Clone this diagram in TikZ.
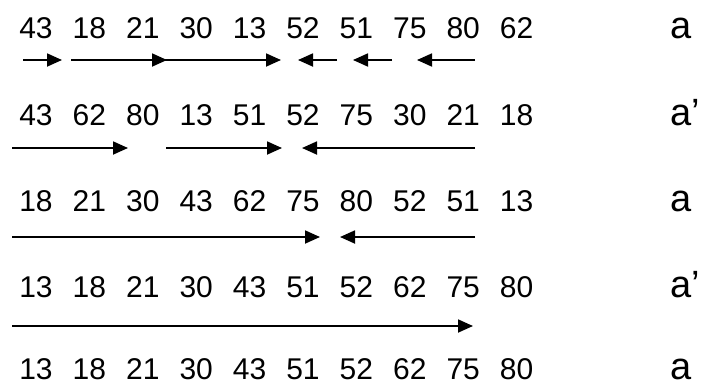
\documentclass[tikz,border=0pt]{standalone}
\usepackage{fontspec}
\setmainfont{Liberation Sans}
\usetikzlibrary{arrows.meta}
\begin{document}
\begin{tikzpicture}[x=1pt,y=-1pt,
  num/.style={anchor=base,inner sep=0pt,text depth=0pt,font=\fontsize{30}{32}\selectfont},
  lab/.style={anchor=base west,inner sep=0pt,text depth=0pt,font=\fontsize{38}{40}\selectfont},
  arr/.style={line width=1.8pt,-{Triangle[length=15pt,width=13pt]}}]
\useasboundingbox (0,0) rectangle (704,386);
% rows
\foreach \r/\y/\vals/\lab in {
  1/38/{43,18,21,30,13,52,51,75,80,62}/a,
  2/125/{43,62,80,13,51,52,75,30,21,18}/a’,
  3/211/{18,21,30,43,62,75,80,52,51,13}/a,
  4/297/{13,18,21,30,43,51,52,62,75,80}/a’,
  5/379/{13,18,21,30,43,51,52,62,75,80}/a}{
  \foreach \v [count=\i from 0] in \vals {
    \node[num] (n\r-\i) at ({36+53.4*\i},\y) {\v};
  }
  \node[lab] (l\r) at (670,\y) {\lab};
}
% row 1 arrows
\coordinate (a1s) at (23,60);  \coordinate (a1e) at (62,60);
\coordinate (a2s) at (71,60);  \coordinate (a2e) at (167,60);
\coordinate (a3s) at (163,60); \coordinate (a3e) at (281,60);
\coordinate (a4s) at (337,60); \coordinate (a4e) at (298,60);
\coordinate (a5s) at (392,60); \coordinate (a5e) at (353,60);
\coordinate (a6s) at (475,60); \coordinate (a6e) at (417,60);
\draw[arr] (a1s) -- (a1e);
\draw[arr] (a2s) -- (a2e);
\draw[arr] (a3s) -- (a3e);
\draw[arr] (a4s) -- (a4e);
\draw[arr] (a5s) -- (a5e);
\draw[arr] (a6s) -- (a6e);
% row 2 arrows
\coordinate (b1s) at (12,148);  \coordinate (b1e) at (128,148);
\coordinate (b2s) at (166,148); \coordinate (b2e) at (282,148);
\coordinate (b3s) at (475,148); \coordinate (b3e) at (302,148);
\draw[arr] (b1s) -- (b1e);
\draw[arr] (b2s) -- (b2e);
\draw[arr] (b3s) -- (b3e);
% row 3 arrows
\coordinate (c1s) at (12,237);  \coordinate (c1e) at (320,237);
\coordinate (c2s) at (475,237); \coordinate (c2e) at (340,237);
\draw[arr] (c1s) -- (c1e);
\draw[arr] (c2s) -- (c2e);
% row 4 arrow
\coordinate (d1s) at (12,326);  \coordinate (d1e) at (473,326);
\draw[arr] (d1s) -- (d1e);
\end{tikzpicture}
\end{document}
